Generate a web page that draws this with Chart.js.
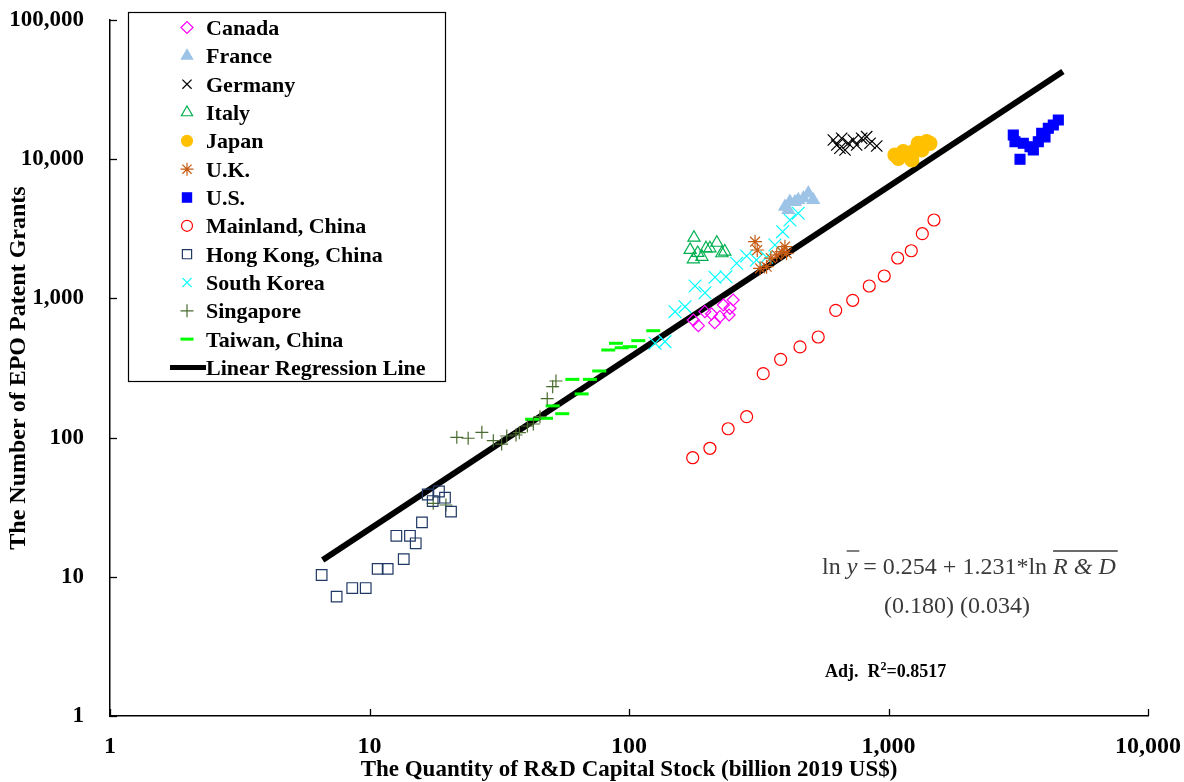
<!DOCTYPE html>
<html>
<head>
<meta charset="utf-8">
<script src="https://cdn.jsdelivr.net/npm/chart.js@4.4.1/dist/chart.umd.min.js"></script>
<style>
  html, body { margin: 0; padding: 0; background: #fff; }
  #wrap { width: 1184px; height: 782px; position: relative; }
</style>
</head>
<body>
<div id="wrap"><canvas id="chart"></canvas></div>
<script>
const xTicks = [1, 10, 100, 1000, 10000];
const yTicks = [1, 10, 100, 1000, 10000, 100000];

// [R&D capital stock (billion 2019 US$), EPO patent grants]
const canada = [[177, 699], [185, 637], [196, 803], [208, 773], [214, 669], [224, 739], [231, 897], [243, 760], [245, 849], [252, 974]];
const france = [[399, 4560], [411, 4320], [417, 4950], [436, 4930], [449, 5090], [470, 5240], [491, 5690], [513, 5090]];
const germany = [[613, 13740], [632, 12650], [650, 11980], [660, 14130], [680, 11650], [700, 13010], [732, 13740], [754, 12650], [788, 14130], [824, 14510], [849, 13010], [901, 12440]];
const italy = [[172, 2230], [177, 1910], [178, 2730], [184, 2120], [191, 1990], [198, 2290], [205, 2290], [218, 2510], [228, 2110], [234, 2170]];
const japan = [[1059, 10720], [1091, 10150], [1140, 11320], [1229, 9870], [1246, 11320], [1302, 13010], [1343, 11650], [1404, 13360], [1445, 13010]];
const uk = [[306, 2555], [312, 2226], [320, 1645], [339, 1690], [352, 1950], [371, 2050], [388, 2165], [399, 2352], [405, 2109]];
const us = [[3026, 14930], [3072, 13360], [3212, 9980], [3307, 13010], [3510, 12300], [3614, 11650], [3778, 13360], [3894, 15350], [4010, 14440], [4129, 16670], [4316, 17610], [4512, 19120]];
const mainland = [[176, 71.7], [205, 83.8], [241, 115.8], [284, 141.3], [329, 288], [384, 365], [456, 448], [536, 528], [626, 821], [728, 969], [843, 1228], [963, 1448], [1085, 1951], [1224, 2200], [1350, 2916], [1497, 3658]];
const hongKong = [[6.54, 10.3], [7.47, 7.2], [8.58, 8.3], [9.67, 8.3], [10.75, 11.4], [11.75, 11.4], [12.69, 19.7], [13.55, 13.4], [14.32, 19.7], [15.07, 17.4], [15.93, 24.6], [16.76, 39], [17.52, 35], [18.52, 41], [19.54, 37], [20.61, 29.4]];
const southKorea = [[126, 476], [137.6, 489], [150.4, 803], [164.4, 872], [179.7, 1228], [196.3, 1099], [214.5, 1418], [236.5, 1432], [260, 1787], [284, 2017], [310, 1887], [339, 1974], [365, 2418], [391, 3015], [417, 3658], [449, 4088]];
const singapore = [[17.6, 33.7], [19.7, 32.8], [21.7, 100.5], [24.0, 98.9], [27.1, 109.2], [30.0, 95.0], [32.3, 89.9], [33.8, 102.7], [36.7, 104.4], [37.8, 108.4], [40.6, 121.2], [42.8, 125.2], [45.4, 141.3], [48.4, 190.3], [50.8, 232], [52.3, 255]];
const taiwan = [[42.3, 135.4], [47.9, 137.6], [50.8, 169], [55.3, 148.5], [60.5, 262], [65.7, 206], [70.7, 262], [76.8, 301], [83.2, 426], [89.1, 476], [93.7, 442], [100.9, 450], [108.6, 497], [124, 586]];
const regressionLine = [[6.6, 13.2], [4700, 42700]];

const serif = "'Liberation Serif', 'Times New Roman', serif";

const series = [
  { label: "Canada", data: canada, style: "rectRot", r: 6, color: "#ff00ff", filled: false },
  { label: "France", data: france, style: "triangle", r: 7, color: "#9dc3e6", filled: true },
  { label: "Germany", data: germany, style: "crossRot", r: 8, color: "#000000", filled: false },
  { label: "Italy", data: italy, style: "triangle", r: 7, color: "#00b050", filled: false },
  { label: "Japan", data: japan, style: "circle", r: 7, color: "#ffc000", filled: true },
  { label: "U.K.", data: uk, style: "star", r: 7, color: "#c55a11", filled: false },
  { label: "U.S.", data: us, style: "rect", r: 7, color: "#0000ff", filled: true },
  { label: "Mainland, China", data: mainland, style: "circle", r: 6, color: "#ff0000", filled: false },
  { label: "Hong Kong, China", data: hongKong, style: "rect", r: 7.5, color: "#203864", filled: false },
  { label: "South Korea", data: southKorea, style: "crossRot", r: 9, color: "#00ffff", filled: false },
  { label: "Singapore", data: singapore, style: "cross", r: 6.5, color: "#4a6b2f", filled: false },
  { label: "Taiwan, China", data: taiwan, style: "line", r: 7, color: "#00ff00", filled: false, bw: 3 },
];

const datasets = series.map((s) => ({
  label: s.label,
  data: s.data.map(([x, y]) => ({ x, y })),
  pointStyle: s.style,
  pointRadius: s.r,
  pointHoverRadius: s.r,
  pointBorderColor: s.color,
  pointBackgroundColor: s.filled ? s.color : "rgba(0,0,0,0)",
  pointBorderWidth: s.bw || 1.2,
  showLine: false,
}));

datasets.push({
  label: "Linear Regression Line",
  data: regressionLine.map(([x, y]) => ({ x, y })),
  showLine: true,
  borderColor: "#000",
  borderWidth: 6,
  pointRadius: 0,
});

const innerTicks = {
  id: "innerTicks",
  afterDraw(chart) {
    const { ctx, chartArea, scales } = chart;
    ctx.save();
    ctx.strokeStyle = "#000";
    ctx.lineWidth = 1.3;
    xTicks.forEach((v) => {
      const px = Math.round(scales.x.getPixelForValue(v)) + 0.5;
      ctx.beginPath();
      ctx.moveTo(px, chartArea.bottom);
      ctx.lineTo(px, chartArea.bottom - 7);
      ctx.stroke();
    });
    yTicks.forEach((v) => {
      const py = Math.round(scales.y.getPixelForValue(v)) + 0.5;
      ctx.beginPath();
      ctx.moveTo(chartArea.left, py);
      ctx.lineTo(chartArea.left + 7, py);
      ctx.stroke();
    });
    ctx.restore();
  },
};

const boxLegend = {
  id: "boxLegend",
  afterDraw(chart) {
    const ctx = chart.ctx;
    ctx.save();
    ctx.fillStyle = "#fff";
    ctx.fillRect(128, 12, 317, 369);
    ctx.strokeStyle = "#000";
    ctx.lineWidth = 1.2;
    ctx.strokeRect(128.5, 12.5, 317, 369);
    ctx.font = "bold 22px " + serif;
    ctx.textBaseline = "alphabetic";
    chart.data.datasets.forEach((ds, i) => {
      const base = 35 + i * 28.33;
      const my = base - 7.5;
      if (ds.showLine) {
        ctx.strokeStyle = ds.borderColor;
        ctx.lineWidth = 5;
        ctx.beginPath();
        ctx.moveTo(170, my);
        ctx.lineTo(206, my);
        ctx.stroke();
      } else {
        ctx.strokeStyle = ds.pointBorderColor;
        ctx.fillStyle = ds.pointBackgroundColor;
        ctx.lineWidth = ds.pointBorderWidth;
        Chart.helpers.drawPoint(ctx, {
          pointStyle: ds.pointStyle,
          radius: ds.pointStyle === "circle" ? 5.5 : Math.min(ds.pointRadius, 6.5),
          rotation: 0,
          borderWidth: ds.pointBorderWidth,
        }, 187, my);
      }
      ctx.fillStyle = "#000";
      ctx.fillText(ds.label, 206, base);
    });
    ctx.restore();
  },
};

const equation = {
  id: "equation",
  afterDraw(chart) {
    const ctx = chart.ctx;
    ctx.save();
    ctx.fillStyle = "#3a3a3a";
    ctx.strokeStyle = "#3a3a3a";
    ctx.textBaseline = "alphabetic";
    const base = 574;
    const parts = [
      { t: "ln ", it: false },
      { t: "y", it: true, bar: true },
      { t: " = 0.254 + 1.231*ln ", it: false },
      { t: "R & D", it: true, bar: true },
    ];
    let x = 822;
    parts.forEach((p) => {
      ctx.font = (p.it ? "italic " : "") + "24px " + serif;
      const w = ctx.measureText(p.t).width;
      ctx.fillText(p.t, x, base);
      if (p.bar) {
        ctx.lineWidth = 1.3;
        ctx.beginPath();
        ctx.moveTo(x, base - 23);
        ctx.lineTo(x + w + 2, base - 23);
        ctx.stroke();
      }
      x += w;
    });
    ctx.font = "24px " + serif;
    ctx.fillText("(0.180) (0.034)", 884, 613);

    ctx.fillStyle = "#000";
    ctx.font = "bold 18px " + serif;
    const a = "Adj.  R";
    ctx.fillText(a, 825, 677);
    let ax = 825 + ctx.measureText(a).width;
    ctx.font = "bold 12px " + serif;
    ctx.fillText("2", ax, 670);
    ax += ctx.measureText("2").width;
    ctx.font = "bold 18px " + serif;
    ctx.fillText("=0.8517", ax, 677);
    ctx.restore();
  },
};

new Chart(document.getElementById("chart"), {
  type: "scatter",
  data: { datasets },
  plugins: [innerTicks, boxLegend, equation],
  options: {
    responsive: true,
    maintainAspectRatio: false,
    animation: false,
    layout: { padding: { top: 20, right: 36, left: 0, bottom: 0 } },
    plugins: {
      legend: { display: false },
      tooltip: { enabled: false },
    },
    scales: {
      x: {
        type: "logarithmic",
        min: 1,
        max: 10000,
        afterBuildTicks: (scale) => { scale.ticks = xTicks.map((v) => ({ value: v })); },
        afterFit: (scale) => {
          scale.height = 66;
          scale.paddingLeft = 0;
          scale.paddingRight = 0;
        },
        grid: { display: false, drawTicks: false },
        border: { display: true, color: "#000", width: 1.5 },
        ticks: {
          autoSkip: false,
          maxRotation: 0,
          padding: 16,
          color: "#000",
          font: { family: serif, size: 24, weight: "bold" },
          callback: (v) => Number(v).toLocaleString("en-US"),
        },
        title: {
          display: true,
          text: "The Quantity of R&D Capital Stock (billion 2019 US$)",
          color: "#000",
          font: { family: serif, size: 23, weight: "bold", lineHeight: 1 },
          padding: { top: 0, bottom: 0 },
        },
      },
      y: {
        type: "logarithmic",
        min: 1,
        max: 100000,
        afterBuildTicks: (scale) => { scale.ticks = yTicks.map((v) => ({ value: v })); },
        afterFit: (scale) => {
          scale.width = 110;
          scale.paddingTop = 0;
          scale.paddingBottom = 0;
        },
        grid: { display: false, drawTicks: false },
        border: { display: true, color: "#000", width: 1.5 },
        ticks: {
          autoSkip: false,
          padding: 26,
          color: "#000",
          font: { family: serif, size: 23, weight: "bold" },
          callback: (v) => Number(v).toLocaleString("en-US"),
        },
        title: {
          display: true,
          text: "The Number of EPO Patent Grants",
          color: "#000",
          font: { family: serif, size: 24, weight: "bold", lineHeight: 1.2 },
          padding: { top: 4, bottom: 0 },
        },
      },
    },
  },
});
</script>
</body>
</html>
